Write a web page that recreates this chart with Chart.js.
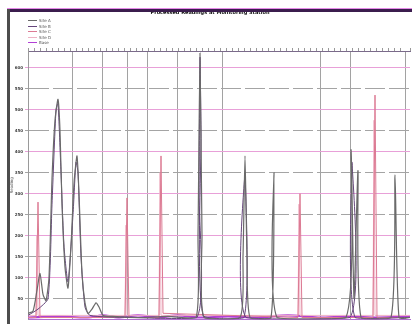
<!DOCTYPE html>
<html>
<head>
<meta charset="utf-8">
<script src="https://cdn.jsdelivr.net/npm/chart.js@4.4.0/dist/chart.umd.min.js"></script>
<style>
    html, body { margin: 0; padding: 0; background: #fff; }
    #wrap { position: relative; width: 412px; height: 324px; overflow: hidden; }
    #chart { position: absolute; left: 0; top: 0; }
    .frame-top-pink { position: absolute; left: 7px; right: 0; top: 8px; height: 1px; background: #e58ae8; }
    .frame-top { position: absolute; left: 7px; right: 0; top: 9px; height: 3px; background: #3b1d4e; }
    .frame-left { position: absolute; left: 7px; top: 9px; bottom: 0; width: 3px; background: #4d4d4d; }
    #legend { position: absolute; left: 28px; top: 18px; font: 4px "DejaVu Sans", sans-serif; color: #555; }
    #legend div { height: 5.5px; display: flex; align-items: center; }
    #legend span.swatch { display: inline-block; width: 9px; height: 1px; margin-right: 2px; }
</style>
</head>
<body>
<div id="wrap">
    <canvas id="chart" width="412" height="324"></canvas>
    <div class="frame-top-pink"></div>
    <div class="frame-top"></div>
    <div class="frame-left"></div>
    <div id="legend"></div>
</div>
<script>
// Series names and colours
const seriesNames = ['Site A', 'Site B', 'Site C', 'Site D', 'Base'];
const seriesColors = ['#6a6a6a', '#66467c', '#dc7a93', '#efb2c4', '#b23fd6'];

// Site A (dark grey)
const siteAX = [0, 5, 9, 12, 15, 18, 21, 24, 27, 30, 32, 34, 37, 40, 43, 46, 49, 51, 54, 57, 60, 64, 68, 71, 75, 85, 110, 140, 168, 170, 172, 174, 176, 212, 215, 217, 219, 222, 243, 246, 249, 318, 323, 326, 330, 333, 363, 367, 371, 382];
const siteAY = [3, 4, 14, 22, 12, 9, 20, 67, 95, 105, 90, 55, 25, 15, 35, 65, 78, 60, 22, 8, 3, 5, 8, 6, 2, 1.5, 1, 1.5, 1, 40, 127, 40, 1, 1, 30, 78, 30, 1, 1, 70, 1, 1, 81, 10, 71, 1, 1, 69, 1, 1];

// Site B (purple)
const siteBX = [0, 10, 20, 24, 28, 30, 33, 36, 40, 45, 48, 50, 53, 57, 62, 100, 169, 171, 172, 173, 175, 216, 217, 218, 322, 324, 327, 382];
const siteBY = [2, 5, 10, 55, 100, 103, 70, 35, 18, 50, 75, 70, 30, 6, 2, 1, 1, 60, 125, 90, 2, 1, 70, 1, 1, 75, 1, 1];

// Site C (pink spikes)
const siteCX = [0, 8, 10, 12, 97, 99, 101, 131, 133, 135, 270, 272, 274, 345, 347, 349, 382];
const siteCY = [1, 1, 56, 1, 1, 58, 1, 1, 78, 3, 1, 60, 1, 1, 107, 1, 1];

// Site D (light rose)
const siteDX = [0, 8, 9, 10, 97, 98, 99, 131, 132, 133, 270, 271, 272, 345, 346, 347, 382];
const siteDY = [2, 2, 40, 2, 2, 45, 2, 2, 70, 2, 2, 55, 2, 2, 95, 2, 2];

// Baseline (magenta)
const baseX = [0, 30, 60, 75, 90, 110, 130, 150, 170, 200, 230, 260, 290, 320, 350, 382];
const baseY = [1, 1.5, 1, 2, 1, 2, 1, 2, 1, 1.5, 1, 2, 1, 1.5, 1, 1.5];

// Vertical grid positions
const xGridTicks = [44, 74, 99, 119, 149, 194, 292, 322, 377];

function zip(xs, ys) {
    return xs.map((x, i) => ({ x: x, y: ys[i] }));
}

const seriesData = [
    zip(siteAX, siteAY),
    zip(siteBX, siteBY),
    zip(siteCX, siteCY),
    zip(siteDX, siteDY),
    zip(baseX, baseY)
];
const widths = [1.2, 1, 1, 1, 2.2];
const tensions = [0.2, 0.2, 0, 0, 0.3];

// Legend
const legend = document.getElementById('legend');
legend.innerHTML = seriesNames.map((n, i) =>
    `<div><span class="swatch" style="background:${seriesColors[i]}"></span>${n}</div>`
).join('');

const ctx = document.getElementById('chart').getContext('2d');
new Chart(ctx, {
    type: 'line',
    data: {
        datasets: seriesData.map((d, i) => ({
            label: seriesNames[i],
            data: d,
            borderColor: seriesColors[i],
            borderWidth: widths[i],
            pointRadius: 0,
            tension: tensions[i],
            fill: false
        }))
    },
    options: {
        responsive: false,
        animation: false,
        layout: { padding: { left: 10, right: 2, bottom: 3, top: 0 } },
        plugins: {
            legend: { display: false },
            tooltip: { enabled: false },
            title: {
                display: true,
                text: 'Processed Readings at Monitoring Station',
                color: '#111',
                font: { size: 5, weight: 'bold', family: 'DejaVu Sans' },
                padding: { top: 10, bottom: 32 }
            }
        },
        scales: {
            x: {
                type: 'linear',
                min: 0,
                max: 382,
                afterBuildTicks: s => { s.ticks = xGridTicks.map(v => ({ value: v })); },
                ticks: { display: false },
                grid: { color: '#a2a2a2', lineWidth: 1, drawTicks: false },
                border: { color: '#b070d0', width: 1 }
            },
            x2: {
                type: 'linear',
                position: 'top',
                min: 0,
                max: 382,
                ticks: { display: false, stepSize: 6 },
                grid: { drawOnChartArea: false, tickLength: 3, color: '#999' },
                border: { color: '#7a6a8a', width: 1 }
            },
            y: {
                min: 0,
                max: 128,
                ticks: {
                    stepSize: 10,
                    color: '#444',
                    font: { size: 4, family: 'DejaVu Sans', weight: 'bold' },
                    padding: 2,
                    callback: v => (v === 0 || v > 120) ? '' : v * 5
                },
                afterFit: s => { s.width = 18; },
                title: {
                    display: true,
                    text: 'Reading',
                    color: '#555',
                    font: { size: 4, family: 'DejaVu Sans' },
                    padding: 0
                },
                grid: {
                    color: c => {
                        const v = c.tick.value;
                        if (v === 0 || v > 120) return 'rgba(0,0,0,0)';
                        return (v / 10) % 2 === 1 ? '#a4a4a4' : '#e8a0d8';
                    },
                    lineWidth: 1,
                    tickLength: 3
                },
                border: {
                    color: '#9a9a9a',
                    width: 1,
                    dash: c => (c.tick && (c.tick.value / 10) % 2 === 1) ? [20, 4] : []
                }
            }
        }
    }
});
</script>
</body>
</html>
